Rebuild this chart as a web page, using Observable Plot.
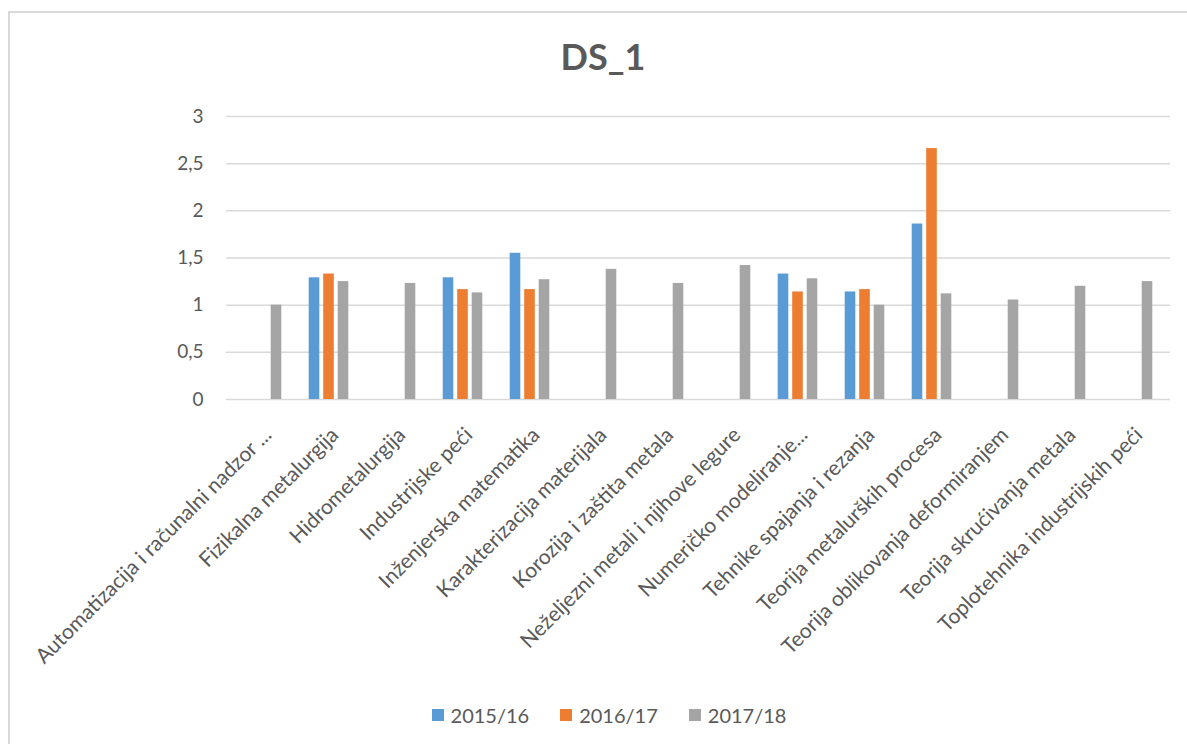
<!DOCTYPE html>
<html>
<head>
<meta charset="utf-8">
<script src="https://cdn.jsdelivr.net/npm/d3@7"></script>
<script src="https://cdn.jsdelivr.net/npm/@observablehq/plot@0.6"></script>
<style>
  html, body { margin: 0; padding: 0; background: #fff; overflow: hidden; width: 1187px; height: 744px; }
  #frame { position: absolute; left: 8px; top: 11px; width: 1200px; height: 760px; border: 2px solid #d9d9d9; box-sizing: border-box; }
  #title { position: absolute; left: 8px; width: 1190px; top: 34px; line-height: 44px; text-align: center; font-family: Lato, "Open Sans", sans-serif; font-weight: bold; font-size: 36px; color: #595959; }
  #chart { position: absolute; left: 0; top: 90px; }
  #legend { position: absolute; left: 14px; width: 1190px; top: 703px; display: flex; justify-content: center; gap: 31px; font-family: Lato, "Open Sans", sans-serif; font-size: 20px; color: #595959; }
  .item { display: flex; align-items: center; gap: 7px; }
  .sw { width: 12px; height: 12px; display: inline-block; }
</style>
</head>
<body>
<div id="frame"></div>
<div id="title">DS_1</div>
<div id="chart"></div>
<div id="legend"></div>
<script>
const categories = [
  "Automatizacija i računalni nadzor ...",
  "Fizikalna metalurgija",
  "Hidrometalurgija",
  "Industrijske peći",
  "Inženjerska matematika",
  "Karakterizacija materijala",
  "Korozija i zaštita metala",
  "Neželjezni metali i njihove legure",
  "Numeričko modeliranje...",
  "Tehnike spajanja i rezanja",
  "Teorija metalurških procesa",
  "Teorija oblikovanja deformiranjem",
  "Teorija skrućivanja metala",
  "Toplotehnika industrijskih peći"
];
const seriesNames = ["2015/16", "2016/17", "2017/18"];
const seriesColors = ["#5B9BD5", "#ED7D31", "#A5A5A5"];
const values2015 = [null, 1.29, null, 1.29, 1.55, null, null, null, 1.33, 1.14, 1.86, null, null, null];
const values2016 = [null, 1.33, null, 1.165, 1.165, null, null, null, 1.14, 1.165, 2.66, null, null, null];
const values2017 = [1.00, 1.25, 1.23, 1.13, 1.27, 1.38, 1.23, 1.42, 1.28, 1.00, 1.12, 1.055, 1.20, 1.25];
const yTicks = [0, 0.5, 1, 1.5, 2, 2.5, 3];

const allValues = [values2015, values2016, values2017];
const rows = [];
seriesNames.forEach((s, si) => {
  categories.forEach((c, ci) => {
    const v = allValues[si][ci];
    if (v != null) rows.push({category: c, series: s, value: v});
  });
});

const offsets = [-14.5, 0, 14.5];
const barMarks = seriesNames.map((s, si) =>
  Plot.barY(rows.filter(d => d.series === s), {
    x: "category", y: "value", fill: seriesColors[si],
    insetLeft: 28.2, insetRight: 28.2, dx: offsets[si] - 1
  })
);

const chart = Plot.plot({
  width: 1187,
  height: 600,
  marginLeft: 226,
  marginRight: 17,
  marginTop: 26,
  marginBottom: 291,
  style: {fontFamily: "Lato, 'Open Sans', sans-serif", fontSize: "19px", color: "#595959", background: "transparent"},
  x: {domain: categories, padding: 0, label: null},
  y: {domain: [0, 3], label: null},
  marks: [
    Plot.ruleY(yTicks, {stroke: "#d9d9d9", strokeWidth: 1.5}),
    ...barMarks,
    Plot.axisY(yTicks, {tickFormat: d => String(d).replace(".", ","), label: null, tickSize: 0, tickPadding: 23, fontSize: 19}),
    Plot.axisX({label: null, tickSize: 0, tickRotate: -45, tickPadding: 6, fontSize: 21, dx: 5, dy: 26})
  ]
});
document.getElementById("chart").appendChild(chart);

const legend = document.getElementById("legend");
seriesNames.forEach((s, i) => {
  const item = document.createElement("div");
  item.className = "item";
  const sw = document.createElement("span");
  sw.className = "sw";
  sw.style.background = seriesColors[i];
  const t = document.createElement("span");
  t.textContent = s;
  item.appendChild(sw);
  item.appendChild(t);
  legend.appendChild(item);
});
</script>
</body>
</html>
